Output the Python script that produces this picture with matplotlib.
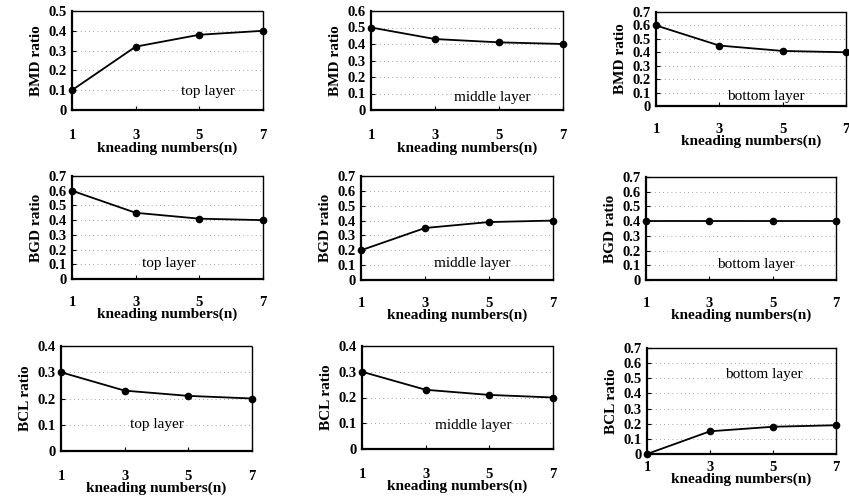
import matplotlib
matplotlib.use("Agg")
import matplotlib.pyplot as plt

plt.rcParams['font.family'] = ['Liberation Serif', 'DejaVu Serif']

x_vals = [1, 3, 5, 7]
xtick_labels = ["1", "3", "5", "7"]

bmd_top = [0.10, 0.32, 0.38, 0.40]
bmd_middle = [0.50, 0.43, 0.41, 0.40]
bmd_bottom = [0.60, 0.45, 0.41, 0.40]
bgd_top = [0.60, 0.45, 0.41, 0.40]
bgd_middle = [0.20, 0.35, 0.39, 0.40]
bgd_bottom = [0.40, 0.40, 0.40, 0.40]
bcl_top = [0.30, 0.23, 0.21, 0.20]
bcl_middle = [0.30, 0.23, 0.21, 0.20]
bcl_bottom = [0.00, 0.15, 0.18, 0.19]

# (series, ylabel, ymax, layer label, pixel box [left, top, right, bottom], text pos, xtick pad)
panels = [
    (bmd_top, "BMD ratio", 0.5, "top layer", (72, 11, 263, 110), (0.71, 0.19), 14),
    (bmd_middle, "BMD ratio", 0.6, "middle layer", (371, 11, 563, 110), (0.63, 0.13), 14),
    (bmd_bottom, "BMD ratio", 0.7, "bottom layer", (656, 12, 846, 106), (0.58, 0.10), 12),
    (bgd_top, "BGD ratio", 0.7, "top layer", (72, 176, 263, 279), (0.51, 0.155), 12.5),
    (bgd_middle, "BGD ratio", 0.7, "middle layer", (361, 176, 553, 280), (0.58, 0.16), 12),
    (bgd_bottom, "BGD ratio", 0.7, "bottom layer", (646, 177, 836, 280), (0.58, 0.155), 12),
    (bcl_top, "BCL ratio", 0.4, "top layer", (61, 346, 252, 451), (0.50, 0.25), 13.5),
    (bcl_middle, "BCL ratio", 0.4, "middle layer", (362, 346, 553, 449), (0.58, 0.23), 13.5),
    (bcl_bottom, "BCL ratio", 0.7, "bottom layer", (647, 348, 836, 454), (0.62, 0.75), 5),
]

W, H = 849, 504
fig = plt.figure(figsize=(W / 100, H / 100), dpi=100)

for vals, ylab, ymax, layer, box, tpos, xpad in panels:
    l, t, r, b = box
    ax = fig.add_axes([l / W, 1 - b / H, (r - l) / W, (b - t) / H])
    ax.plot(x_vals, vals, color='black', lw=1.3, marker='o', ms=4.5,
            clip_on=False, zorder=5)
    ax.set_xlim(1, 7)
    ax.set_ylim(0, ymax)
    ax.set_xticks(x_vals)
    ax.set_xticklabels(xtick_labels, fontweight='bold')
    yt = [round(0.1 * i, 1) for i in range(int(round(ymax * 10)) + 1)]
    ax.set_yticks(yt)
    ax.set_yticklabels(["0" if v == 0 else f"{v:.1f}" for v in yt],
                       fontweight='bold')
    ax.tick_params(axis='both', direction='in', length=3, width=0.8,
                   labelsize=10.5, colors='black')
    ax.tick_params(axis='x', pad=xpad)
    ax.tick_params(axis='y', pad=4)
    ax.grid(axis='y', linestyle=(0, (1, 4)), color='#888888', lw=0.6)
    for s in ['left', 'bottom']:
        ax.spines[s].set_linewidth(1.6)
    for s in ['top', 'right']:
        ax.spines[s].set_linestyle((0, (1, 1)))
        ax.spines[s].set_linewidth(1.0)
    ax.set_ylabel(ylab, fontsize=11, labelpad=4, fontweight='bold')
    ax.set_xlabel("kneading numbers(n)", fontsize=11, labelpad=-1,
                  fontweight='bold')
    ax.text(tpos[0], tpos[1], layer, transform=ax.transAxes, ha='center',
            va='center', fontsize=11)

fig.savefig("out.png", dpi=100)
